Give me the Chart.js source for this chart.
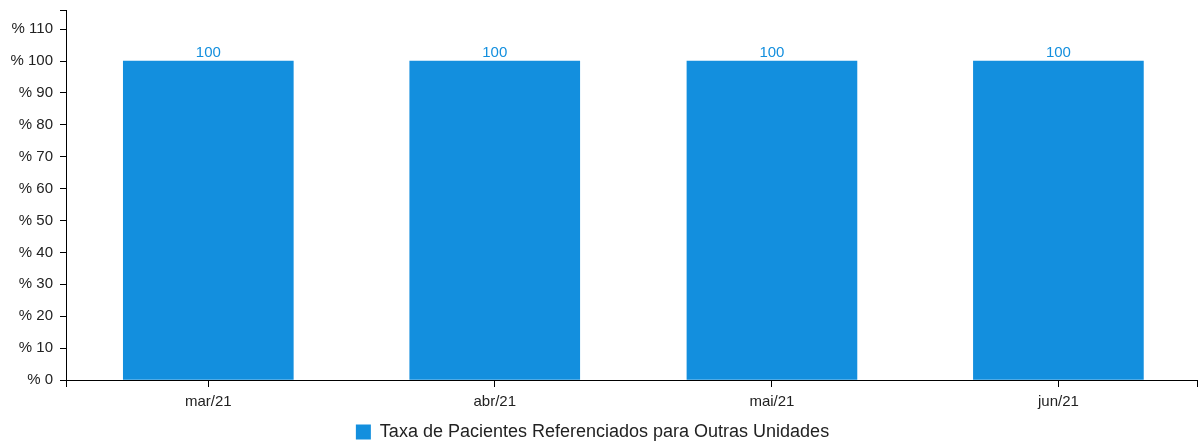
<!DOCTYPE html>
<html>
<head>
<meta charset="utf-8">
<script src="https://cdn.jsdelivr.net/npm/chart.js@4.4.0/dist/chart.umd.min.js"></script>
<style>
html,body{margin:0;padding:0;background:#fff;}
#wrap{width:1200px;height:445px;}
</style>
</head>
<body>
<div id="wrap"><canvas id="c" width="1200" height="445"></canvas></div>
<script>
// Data
const categories = ['mar/21', 'abr/21', 'mai/21', 'jun/21'];
const dayOffsets = [0, 31, 61, 92]; // days since 1 Mar 2021
const values = [100, 100, 100, 100];
const yTicks = [0, 10, 20, 30, 40, 50, 60, 70, 80, 90, 100, 110];
const seriesName = 'Taxa de Pacientes Referenciados para Outras Unidades';

const BAR_COLOR = '#138fde';
const FONT = '"Liberation Sans", Arial, sans-serif';
const X_MIN = -15.4, X_MAX = 107.0, Y_MAX = 116;

const valueLabels = {
  id: 'valueLabels',
  afterDatasetsDraw(chart) {
    const ctx = chart.ctx;
    const meta = chart.getDatasetMeta(0);
    ctx.save();
    ctx.font = '15px ' + FONT;
    ctx.fillStyle = BAR_COLOR;
    ctx.textAlign = 'center';
    ctx.textBaseline = 'alphabetic';
    meta.data.forEach((el, i) => {
      ctx.fillText(String(values[i]), el.x, el.y - 4);
    });
    ctx.restore();
  }
};

const legendTrim = {
  id: 'legendTrim',
  afterInit(chart) {
    const lg = chart.legend;
    if (lg && !lg._trimmed) {
      const origFit = lg.fit.bind(lg);
      lg.fit = function () { origFit(); this.height -= 6; };
      const origDraw = lg._draw.bind(lg);
      lg._draw = function () { const r = this.right; this.right = r - 12; origDraw(); this.right = r; };
      lg._trimmed = true;
    }
  }
};

new Chart(document.getElementById('c'), {
  type: 'bar',
  data: {
    datasets: [{
      label: seriesName,
      data: dayOffsets.map((d, i) => ({ x: d, y: values[i] })),
      backgroundColor: BAR_COLOR,
      borderWidth: 0,
      barThickness: 170
    }]
  },
  options: {
    responsive: false,
    animation: false,
    layout: { padding: { left: 0, right: 3, top: 10, bottom: 0 } },
    plugins: {
      legend: {
        position: 'bottom',
        labels: {
          boxWidth: 15, boxHeight: 15, padding: 10,
          color: '#222',
          font: { family: FONT, size: 18 }
        }
      },
      tooltip: { enabled: false }
    },
    scales: {
      x: {
        type: 'linear',
        min: X_MIN, max: X_MAX,
        offset: false,
        afterBuildTicks(scale) {
          scale.ticks = [X_MIN, ...dayOffsets, X_MAX].map(v => ({ value: v }));
        },
        afterFit(scale) { scale.height = 33; scale.paddingLeft = 0; scale.paddingRight = 0; },
        grid: { offset: false, drawOnChartArea: false, drawTicks: true, tickLength: 7, color: '#000', lineWidth: 1 },
        border: { display: true, color: '#000', width: 1 },
        ticks: {
          autoSkip: false, maxRotation: 0, padding: 6, color: '#222',
          font: { family: FONT, size: 15 },
          callback(v) { const i = dayOffsets.indexOf(v); return i >= 0 ? categories[i] : ''; }
        }
      },
      y: {
        min: 0, max: Y_MAX,
        afterBuildTicks(scale) {
          scale.ticks = [...yTicks, Y_MAX].map(v => ({ value: v }));
        },
        afterFit(scale) { scale.width = 66; scale.paddingTop = 0; scale.paddingBottom = 0; },
        grid: { drawOnChartArea: false, drawTicks: true, tickLength: 6, color: '#000', lineWidth: 1 },
        border: { display: true, color: '#000', width: 1 },
        ticks: {
          padding: 7, color: '#222',
          font: { family: FONT, size: 15 },
          callback(v) { return yTicks.includes(v) ? '% ' + v : ''; }
        }
      }
    }
  },
  plugins: [valueLabels, legendTrim]
});
</script>
</body>
</html>
